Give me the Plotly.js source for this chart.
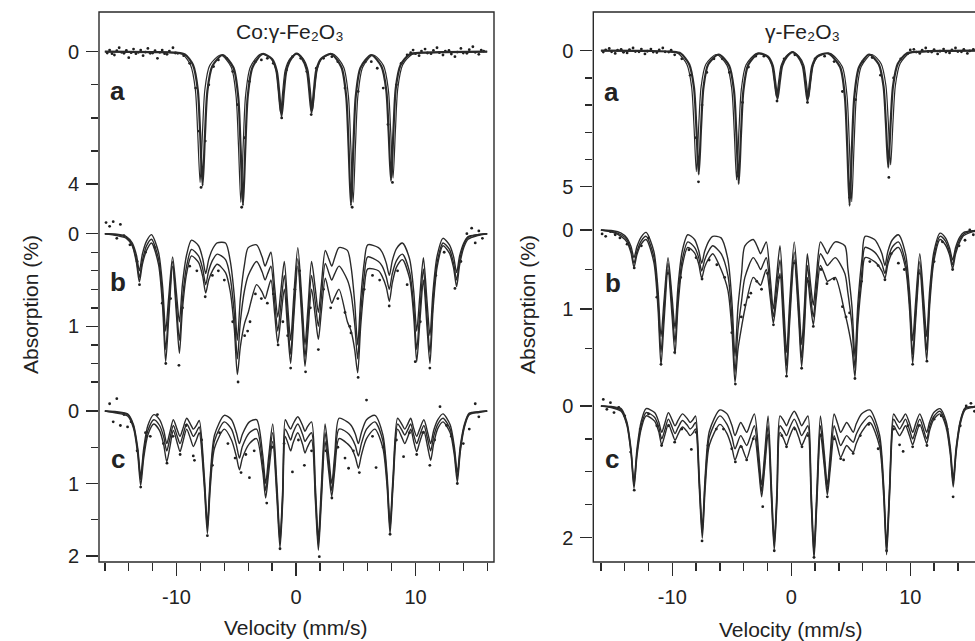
<!DOCTYPE html>
<html><head><meta charset="utf-8">
<script src="https://cdn.plot.ly/plotly-3.0.1.min.js"></script>
<style>html,body{margin:0;padding:0;background:#fff}#chart{width:975px;height:641px}</style>
</head><body><div id="chart"></div>
<script>
// ---------------- DATA (velocity mm/s, absorption %) ----------------
// Left panel: Co:γ-Fe2O3
const LA_inner = [[-16,0],[-12,0.01],[-10,0.03],[-9.3,0.08],
 [-8.62,.4],[-8.22,1.15],[-8.02,2.5],[-7.82,4.05],[-7.62,2.5],[-7.42,1.2],[-7.02,.45],[-6.15,.1],
 [-5.24,.48],[-4.84,1.35],[-4.64,2.87],[-4.44,4.65],[-4.24,2.87],[-4.04,1.35],[-3.64,.47],[-2.8,.07],
 [-2.01,.22],[-1.61,.58],[-1.41,1.21],[-1.21,1.95],[-1.01,1.21],[-0.81,.58],[-0.41,.22],[0.05,.06],
 [0.5,.21],[0.9,.55],[1.1,1.15],[1.3,1.85],[1.5,1.15],[1.7,.55],[2.1,.21],[2.95,.07],
 [3.8,.47],[4.2,1.35],[4.4,2.87],[4.6,4.65],[4.8,2.87],[5.0,1.35],[5.4,.48],[6.3,.1],
 [7.15,.45],[7.55,1.15],[7.75,2.42],[7.95,3.9],[8.15,2.42],[8.35,1.1],[8.75,.4],
 [9.5,.08],[10.5,.03],[12.5,.01],[16,0]];
const LA_outer = [[-16,0],[-12,0.01],[-10.2,.03],[-9.5,.08],
 [-8.83,.4],[-8.43,1.13],[-8.23,2.45],[-8.03,3.95],[-7.83,2.45],[-7.63,1.15],[-7.23,.42],[-6.3,.1],
 [-5.42,.47],[-5.02,1.33],[-4.82,2.8],[-4.62,4.55],[-4.42,2.8],[-4.22,1.32],[-3.82,.46],[-2.95,.07],
 [-2.1,.21],[-1.7,.55],[-1.5,1.15],[-1.3,1.85],[-1.1,1.15],[-0.9,.55],[-0.5,.21],[0.05,.06],
 [0.58,.2],[0.98,.53],[1.18,1.1],[1.38,1.78],[1.58,1.1],[1.78,.53],[2.18,.2],[3.1,.07],
 [3.98,.46],[4.38,1.32],[4.58,2.8],[4.78,4.55],[4.98,2.8],[5.18,1.33],[5.58,.47],[6.45,.1],
 [7.32,.42],[7.72,1.12],[7.92,2.37],[8.12,3.82],[8.32,2.37],[8.52,1.1],[8.92,.4],
 [9.7,.08],[10.7,.03],[12.5,.01],[16,0]];
const LA_dots = [[-15.8,.04],[-15.6,-.05],[-15.4,.06],[-15.2,.1],[-15.0,-.03],[-14.8,-.12],[-14.6,.02],[-14.4,.05],[-14.2,-.04],[-14.0,.18],[-13.8,.03],[-13.6,-.08],[-13.4,.06],[-13.2,.02],[-13.0,-.05],[-12.8,.12],[-12.6,.01],[-12.4,-.1],[-12.2,.05],[-12.0,.04],[-11.8,-.03],[-11.6,.2],[-11.4,.02],[-11.2,-.05],[-11.0,.06],[-10.8,.08],[-10.6,-.02],[-10.3,-.12],[-10.1,.04],[-9.9,.05],[-9.4,.12],[-8.9,.35],[-8.4,1.1],[-8.1,2.4],[-7.95,4.1],[-7.6,2.7],[-7.3,1.0],[-6.9,.45],[-6.5,.25],[-5.8,.2],[-5.3,.6],[-4.9,1.6],[-4.55,4.7],[-4.3,2.6],[-3.9,.9],[-3.4,.3],[-2.9,.25],[-2.4,.2],[-1.9,.35],[-1.2,2.0],[-0.8,.55],[-0.3,.15],[0.4,.2],[0.9,.6],[1.27,1.9],[1.7,.5],[2.3,.2],[3.0,.15],[3.5,.3],[4.1,1.1],[4.7,4.7],[5.2,1.2],[5.8,.3],[6.3,.3],[6.8,.5],[7.3,1.1],[7.7,2.2],[8.07,3.95],[8.4,1.0],[8.8,.35],[9.3,.1],[9.6,.03],[9.8,-.05],[10.0,.06],[10.3,.12],[10.5,-.02],[10.8,-.08],[11.0,.04],[11.3,.06],[11.5,-.04],[11.8,-.12],[12.0,.03],[12.3,.1],[12.5,-.02],[12.8,-.04],[13.0,.07],[13.3,.15],[13.5,.01],[13.8,-.1],[14.0,.04],[14.3,.05],[14.5,-.06],[14.8,-.15],[15.0,.02],[15.3,.08],[15.5,-.05],[15.7,-.02]];

const LB_vel = [-16,-15,-14.2,-13.71,-13.36,-13.11,-12.86,-12.51,-12.1,-11.51,-11.16,-10.91,-10.66,-10.33,-10.01,-9.76,-9.51,-9.16,-8.75,-8.16,-7.81,-7.56,-7.31,-6.96,-6.6,-5.9,-5.51,-5.16,-4.91,-4.66,-4.31,-4.0,-3.3,-2.84,-2.59,-2.37,-2.1,-1.78,-1.53,-1.28,-0.98,-0.70,-0.45,-0.20,0.15,0.50,0.75,1.00,1.3,1.62,1.87,2.12,2.45,2.74,2.99,3.24,3.6,4.3,4.61,4.91,5.16,5.41,5.71,6.0,6.9,7.21,7.56,7.81,8.06,8.41,8.9,9.50,9.85,10.10,10.35,10.66,10.96,11.21,11.46,11.81,12.3,12.84,13.19,13.44,13.69,14.04,14.4,15.2,16];
const LB_top = [0,.005,.03,.10,.23,.40,.22,.08,.01,.20,.58,1.05,.69,.25,.64,.95,.55,.23,.07,.13,.27,.43,.28,.16,.1,.1,.29,.68,1.15,.70,.33,.15,.12,.25,.35,.28,.2,.59,.9,.63,.3,.77,1.15,.70,.15,.73,1.2,.80,.3,.60,.85,.55,.18,.27,.35,.26,.15,.18,.36,.74,1.2,.71,.31,.12,.15,.2,.32,.45,.29,.16,.1,.27,.62,1.05,.69,.26,.72,1.1,.63,.24,.05,.12,.25,.42,.24,.10,.03,.01,0];
const LB_mid = [0,.01,.04,.12,.28,.47,.29,.13,.06,.27,.71,1.25,.82,.30,.77,1.15,.71,.35,.17,.24,.38,.55,.40,.28,.22,.28,.47,.87,1.35,.95,.61,.45,.3,.41,.5,.43,.35,.74,1.05,.78,.45,.92,1.3,.84,.27,.85,1.33,.93,.45,.75,1.0,.69,.32,.42,.5,.43,.35,.5,.65,.97,1.35,.86,.45,.25,.3,.35,.47,.6,.43,.29,.22,.41,.79,1.25,.86,.38,.88,1.28,.75,.31,.1,.17,.32,.5,.29,.12,.04,.01,0];
const LB_bot = [0,.02,.05,.13,.31,.52,.33,.18,.10,.33,.80,1.38,.92,.35,.87,1.29,.82,.43,.24,.31,.46,.64,.50,.39,.33,.42,.62,1.03,1.52,1.22,.97,.85,.55,.63,.7,.61,.5,.87,1.18,.92,.6,1.04,1.40,.93,.35,.94,1.43,1.06,.6,.90,1.14,.84,.48,.63,.75,.68,.6,.95,1.05,1.25,1.5,1.0,.58,.38,.4,.46,.58,.73,.53,.36,.28,.48,.89,1.38,.98,.5,1.0,1.40,.83,.36,.13,.21,.37,.57,.34,.15,.06,.02,0];
const LB_dots = [[-15.9,-.12],[-15.6,-.08],[-15.3,-.13],[-15.0,.05],[-14.7,-.1],[-14.4,.02],[-13.9,.12],[-13.3,.3],[-13.1,.55],[-12.6,.2],[-11.8,.15],[-11.2,.75],[-10.9,1.4],[-10.5,.7],[-9.8,1.42],[-9.5,.8],[-8.9,.35],[-8.3,.4],[-7.6,.68],[-7.0,.45],[-6.5,.4],[-6.0,.5],[-5.3,.95],[-4.85,1.6],[-4.3,1.1],[-4.05,1.05],[-3.85,.95],[-3.4,.65],[-2.9,.7],[-2.4,.75],[-1.9,.65],[-1.5,1.2],[-1.1,.95],[-0.7,1.1],[-0.45,1.45],[-0.1,.6],[0.3,.4],[0.8,1.49],[1.2,.8],[1.87,1.25],[2.3,.6],[2.9,.8],[3.5,.7],[4.1,.85],[4.5,1.0],[4.6,1.07],[5.2,1.55],[5.7,.6],[6.4,.45],[7.0,.5],[7.8,.78],[8.5,.4],[9.3,.55],[9.98,1.38],[10.4,.95],[11.2,1.45],[11.7,.45],[12.4,.2],[13.3,.59],[13.8,.3],[14.3,0],[14.7,-.06],[15.0,.1],[15.3,-.03],[15.6,.05]];

const LC_vel = [-16,-15,-14.1,-13.6,-13.25,-13.0,-12.75,-12.4,-11.9,-11.42,-11.07,-10.82,-10.57,-10.27,-9.96,-9.71,-9.46,-9.15,-8.84,-8.59,-8.34,-8.1,-7.67,-7.42,-7.17,-6.82,-6.0,-5.4,-4.99,-4.74,-4.49,-3.9,-3.3,-2.79,-2.54,-2.29,-1.95,-1.59,-1.34,-1.12,-0.9,-0.65,-0.45,-0.25,0.15,0.55,0.75,0.95,1.3,1.62,1.87,2.12,2.43,2.74,2.99,3.24,3.6,4.3,4.62,4.97,5.22,5.47,5.9,6.6,7.27,7.62,7.87,8.12,8.5,8.85,9.1,9.35,9.6,9.85,10.1,10.35,10.7,11.02,11.27,11.52,11.87,12.3,12.9,13.25,13.5,13.75,14.1,14.5,15.3,16];
const LC_top = [0,.01,.04,.19,.51,.9,.52,.2,.05,.12,.27,.45,.3,.12,.25,.35,.24,.1,.18,.25,.2,.13,.91,1.55,.88,.33,.06,.12,.3,.45,.32,.15,.12,.6,1.0,.63,.18,1.04,1.75,1.1,.12,.2,.25,.18,.08,.2,.28,.22,.15,1.03,1.75,1.04,.18,.63,1.0,.6,.1,.15,.2,.32,.45,.3,.12,.06,.33,.88,1.55,.9,.1,.18,.25,.18,.1,.24,.35,.25,.12,.3,.45,.27,.12,.04,.19,.49,.85,.48,.18,.03,.01,0];
const LC_mid = [0,.02,.05,.21,.55,.95,.58,.27,.12,.2,.36,.55,.39,.2,.34,.45,.33,.18,.27,.35,.29,.22,.99,1.62,.96,.41,.15,.25,.47,.65,.49,.3,.25,.72,1.1,.74,.3,1.14,1.82,1.19,.25,.33,.4,.3,.18,.32,.42,.37,.3,1.15,1.85,1.15,.3,.74,1.1,.72,.25,.3,.36,.48,.62,.45,.25,.15,.41,.96,1.62,.97,.18,.26,.33,.26,.18,.33,.45,.34,.2,.39,.55,.35,.18,.1,.25,.55,.92,.52,.2,.04,.01,0];
const LC_bot = [0,.03,.07,.24,.60,1.03,.65,.33,.18,.27,.47,.70,.51,.27,.43,.56,.42,.25,.38,.49,.4,.3,1.06,1.69,1.04,.51,.25,.4,.63,.81,.65,.45,.38,.83,1.2,.85,.42,1.23,1.89,1.27,.35,.46,.55,.44,.3,.46,.58,.5,.4,1.24,1.92,1.25,.42,.84,1.18,.82,.38,.45,.51,.64,.79,.61,.38,.25,.51,1.04,1.69,1.04,.25,.36,.45,.36,.25,.42,.56,.43,.28,.5,.68,.45,.24,.15,.3,.61,.98,.56,.22,.05,.02,0];
const LC_dots = [[-15.6,-.1],[-15.3,.15],[-15.0,-.17],[-14.7,.2],[-14.4,.05],[-14.1,.22],[-13.8,.15],[-13.3,.55],[-13.0,1.05],[-12.6,.3],[-12.2,.35],[-11.6,.05],[-11.1,.45],[-10.8,.72],[-10.3,.35],[-9.7,.6],[-9.2,.2],[-8.6,.62],[-8.5,.68],[-7.9,.4],[-7.42,1.72],[-7.0,.75],[-6.4,.3],[-5.7,.45],[-5.1,.65],[-4.6,.85],[-4.2,.6],[-3.9,.92],[-3.5,.55],[-2.45,1.27],[-2.0,.5],[-1.34,1.9],[-1.0,.45],[-0.3,.84],[0.2,.4],[0.7,.75],[1.3,.55],[1.95,2.01],[2.5,.55],[3.0,1.2],[3.5,.5],[4.1,.65],[4.4,.79],[4.8,.55],[5.3,.85],[5.9,-.15],[6.4,.35],[6.7,.78],[7.3,.5],[7.87,1.7],[8.4,.4],[9.0,.63],[9.5,.3],[10.1,.6],[10.6,.3],[11.2,.75],[11.6,.4],[12.05,-.06],[12.6,.2],[13.0,.35],[13.5,1.0],[14.0,.45],[14.5,.25],[15.0,-.1],[15.3,.08]];

// Right panel: γ-Fe2O3
const RA_inner = [[-16,0],[-12,.01],[-10,.04],[-9.3,.1],
 [-8.58,.5],[-8.18,1.35],[-7.98,2.8],[-7.78,4.55],[-7.58,2.8],[-7.38,1.35],[-6.98,.5],[-6.1,.14],
 [-5.22,.55],[-4.82,1.45],[-4.62,3.0],[-4.42,4.9],[-4.22,3.0],[-4.02,1.45],[-3.62,.52],[-2.75,.1],
 [-1.96,.22],[-1.56,.55],[-1.36,1.12],[-1.16,1.78],[-0.96,1.12],[-0.76,.55],[-0.36,.22],[0.1,.05],
 [0.56,.22],[0.96,.56],[1.16,1.16],[1.36,1.85],[1.56,1.16],[1.76,.56],[2.16,.22],[3.1,.1],
 [4.1,.6],[4.5,1.68],[4.7,3.5],[4.9,5.7],[5.1,3.5],[5.3,1.68],[5.7,.6],[6.55,.14],
 [7.35,.5],[7.75,1.3],[7.95,2.66],[8.15,4.3],[8.35,2.66],[8.55,1.3],[8.95,.48],
 [9.7,.1],[10.6,.04],[12.5,.01],[16,0]];
const RA_outer = [[-16,0],[-12,.01],[-10.2,.04],[-9.5,.1],
 [-8.78,.5],[-8.38,1.32],[-8.18,2.75],[-7.98,4.45],[-7.78,2.75],[-7.58,1.33],[-7.18,.5],[-6.3,.14],
 [-5.4,.54],[-5.0,1.42],[-4.8,2.92],[-4.6,4.75],[-4.4,2.92],[-4.2,1.42],[-3.8,.52],[-2.9,.1],
 [-2.05,.21],[-1.65,.53],[-1.45,1.08],[-1.25,1.7],[-1.05,1.08],[-0.85,.53],[-0.45,.21],[0.1,.05],
 [0.65,.21],[1.05,.53],[1.25,1.1],[1.45,1.75],[1.65,1.1],[1.85,.53],[2.25,.21],[3.25,.1],
 [4.28,.58],[4.68,1.64],[4.88,3.42],[5.08,5.55],[5.28,3.42],[5.48,1.64],[5.88,.58],[6.75,.14],
 [7.55,.48],[7.95,1.27],[8.15,2.6],[8.35,4.2],[8.55,2.6],[8.75,1.27],[9.15,.47],
 [9.9,.1],[10.8,.04],[12.5,.01],[16,0]];
const RA_dots = [[-15.8,.05],[-15.6,-.03],[-15.3,-.08],[-15.1,.04],[-14.8,.1],[-14.6,-.02],[-14.3,-.05],[-14.1,.06],[-13.8,.08],[-13.6,-.04],[-13.3,-.1],[-13.1,.03],[-12.8,.04],[-12.6,-.06],[-12.3,.12],[-12.1,.02],[-11.8,-.06],[-11.6,.05],[-11.3,.07],[-11.1,-.03],[-10.8,-.1],[-10.6,.04],[-10.3,.05],[-10.1,-.02],[-9.8,.15],[-9.2,.3],[-8.5,.9],[-8.0,3.2],[-7.8,4.82],[-7.5,2.0],[-7.1,.8],[-6.5,.3],[-5.8,.3],[-5.2,.8],[-4.5,4.6],[-4.1,1.9],[-3.6,.6],[-3.0,.2],[-2.3,.2],[-1.2,1.85],[-0.6,.3],[0.3,.15],[1.36,1.9],[2.0,.3],[2.8,.2],[3.6,.4],[4.3,1.5],[4.9,5.4],[5.4,1.8],[6.0,.4],[6.8,.25],[7.5,.9],[8.2,4.66],[8.6,1.0],[9.2,.3],[9.8,.1],[10.0,-.03],[10.3,-.05],[10.5,.05],[10.8,.1],[11.0,-.02],[11.3,-.1],[11.5,.03],[11.8,.05],[12.0,-.04],[12.3,.12],[12.5,.02],[12.8,-.06],[13.0,.05],[13.3,.08],[13.5,-.03],[13.8,-.1],[14.0,.03],[14.3,.04],[14.5,-.05],[14.8,.1],[15.0,.01],[15.3,-.05]];

const RB_vel = [-16,-15,-14.3,-13.82,-13.47,-13.22,-12.97,-12.62,-12.2,-11.55,-11.2,-10.95,-10.7,-10.36,-10.02,-9.77,-9.52,-9.17,-8.7,-8.13,-7.78,-7.53,-7.28,-6.93,-6.6,-5.9,-5.33,-4.98,-4.73,-4.48,-4.18,-3.9,-3.2,-2.83,-2.58,-2.36,-2.1,-1.76,-1.51,-1.26,-0.95,-0.64,-0.39,-0.14,0.25,0.62,0.87,1.1,1.35,1.62,1.85,2.1,2.45,2.78,3.03,3.28,3.7,4.5,4.75,5.1,5.35,5.6,5.95,6.2,7.0,7.27,7.62,7.87,8.12,8.47,9.0,9.6,9.95,10.2,10.45,10.8,11.13,11.38,11.63,11.98,12.5,12.96,13.31,13.56,13.81,14.16,14.5,15.3,16];
const RB_top = [0,.01,.04,.1,.21,.35,.21,.09,.03,.27,.76,1.35,.9,.35,.85,1.25,.71,.27,.06,.12,.26,.42,.27,.14,.08,.1,.37,.93,1.6,.97,.55,.2,.12,.22,.3,.23,.15,.62,1.0,.64,.2,.94,1.55,.92,.15,.87,1.45,.97,.3,.68,.95,.59,.15,.23,.3,.23,.15,.2,.48,.97,1.6,.92,.35,.08,.12,.18,.3,.45,.27,.13,.06,.3,.8,1.4,.91,.3,.88,1.35,.76,.28,.04,.1,.23,.38,.22,.09,.03,.01,0];
const RB_mid = [0,.02,.06,.12,.26,.42,.27,.14,.08,.34,.89,1.55,1.04,.42,.97,1.42,.85,.38,.15,.22,.35,.52,.38,.26,.2,.3,.57,1.13,1.8,1.26,.9,.6,.35,.43,.5,.43,.35,.76,1.1,.78,.38,1.12,1.72,1.07,.28,1.02,1.62,1.13,.45,.83,1.1,.74,.3,.38,.45,.41,.35,.55,.79,1.21,1.75,1.06,.5,.22,.28,.33,.43,.55,.37,.22,.15,.41,.94,1.58,1.05,.4,1.02,1.52,.87,.34,.08,.14,.28,.44,.26,.12,.05,.01,0];
const RB_bot = [0,.03,.08,.15,.29,.47,.31,.18,.12,.41,1.0,1.71,1.17,.5,1.09,1.57,.96,.46,.22,.29,.43,.61,.47,.36,.3,.5,.76,1.29,1.93,1.51,1.23,1.0,.6,.66,.7,.61,.5,.87,1.18,.9,.55,1.26,1.84,1.18,.38,1.12,1.73,1.26,.6,.95,1.2,.86,.45,.56,.65,.63,.6,1.05,1.21,1.5,1.86,1.18,.62,.35,.4,.44,.52,.61,.43,.29,.22,.48,1.03,1.69,1.15,.5,1.13,1.65,.96,.4,.12,.19,.32,.49,.3,.15,.07,.02,0];
const RB_dots = [[-15.9,.05],[-15.6,.08],[-15.2,.02],[-14.8,.06],[-14.4,.1],[-13.8,.18],[-13.2,.48],[-12.6,.2],[-12.0,.1],[-11.3,.85],[-10.95,1.7],[-10.4,.55],[-9.8,1.55],[-9.3,.6],[-8.6,.25],[-8.0,.35],[-7.5,.62],[-6.9,.38],[-6.26,.44],[-5.6,.6],[-5.0,1.3],[-4.7,1.95],[-4.2,1.1],[-3.9,.95],[-3.6,.85],[-3.4,.8],[-2.9,.65],[-2.5,.75],[-2.0,.55],[-1.5,1.2],[-1.0,.6],[-0.4,1.85],[0.2,.42],[0.87,1.75],[1.4,.65],[1.85,1.22],[2.5,.5],[3.0,.68],[3.6,.62],[4.3,.97],[4.6,1.1],[4.9,1.05],[5.35,1.88],[5.9,.65],[6.6,.4],[7.3,.45],[7.87,.63],[8.4,.3],[9.0,.42],[9.5,.5],[10.2,1.7],[10.7,.55],[11.4,1.66],[12.0,.4],[12.7,.15],[13.56,.5],[14.1,.2],[14.6,.13],[15.0,0],[15.3,.06]];

const RC_vel = [-16,-15,-14.3,-13.82,-13.47,-13.22,-12.97,-12.62,-12.2,-11.49,-11.14,-10.89,-10.64,-10.33,-10.02,-9.77,-9.52,-9.15,-8.75,-8.5,-8.27,-8.05,-7.73,-7.48,-7.23,-6.88,-6.0,-5.4,-4.98,-4.73,-4.25,-3.75,-3.45,-3.1,-2.74,-2.49,-2.24,-1.95,-1.66,-1.43,-1.2,-0.95,-0.62,-0.4,-0.15,0.25,0.62,0.87,1.12,1.4,1.68,1.91,2.14,2.45,2.78,3.03,3.28,3.6,3.9,4.15,4.65,4.96,5.21,5.46,5.9,6.6,7.41,7.76,8.01,8.26,8.6,8.85,9.1,9.35,9.6,9.95,10.2,10.45,10.8,11.13,11.38,11.63,11.98,12.5,13.01,13.36,13.61,13.86,14.21,14.6,15.3,16];
const RC_top = [0,.01,.04,.24,.65,1.15,.65,.24,.04,.1,.24,.4,.27,.1,.21,.3,.22,.12,.19,.25,.21,.15,1.09,1.85,1.04,.38,.06,.12,.3,.45,.25,.4,.27,.12,.71,1.2,.73,.15,1.25,2.05,1.25,.15,.23,.3,.2,.08,.2,.3,.23,.15,1.31,2.15,1.31,.15,.73,1.2,.71,.12,.27,.4,.25,.33,.4,.27,.12,.06,.43,1.18,2.1,1.21,.12,.19,.25,.19,.12,.27,.4,.27,.12,.27,.4,.24,.1,.04,.23,.62,1.1,.62,.22,.03,.01,0];
const RC_mid = [0,.02,.06,.27,.69,1.2,.71,.3,.1,.17,.32,.5,.37,.2,.32,.42,.33,.22,.29,.35,.31,.25,1.17,1.93,1.13,.47,.15,.28,.48,.65,.45,.6,.47,.3,.85,1.3,.85,.3,1.36,2.12,1.36,.3,.38,.45,.34,.2,.34,.45,.38,.3,1.43,2.25,1.43,.3,.84,1.28,.84,.3,.47,.6,.45,.51,.55,.43,.28,.15,.52,1.27,2.18,1.29,.2,.28,.35,.28,.2,.37,.5,.37,.2,.37,.5,.31,.16,.08,.28,.68,1.17,.66,.24,.04,.01,0];
const RC_bot = [0,.03,.08,.29,.72,1.25,.76,.35,.15,.23,.39,.59,.45,.28,.41,.52,.43,.32,.39,.45,.41,.35,1.26,2.01,1.23,.59,.28,.42,.64,.82,.6,.8,.64,.45,.96,1.38,.95,.42,1.45,2.19,1.44,.4,.51,.6,.47,.32,.47,.6,.51,.4,1.51,2.32,1.52,.42,.93,1.35,.95,.45,.63,.78,.6,.66,.7,.57,.4,.25,.61,1.36,2.26,1.38,.3,.38,.45,.38,.3,.46,.59,.45,.28,.44,.57,.37,.2,.12,.32,.73,1.23,.7,.27,.06,.02,0];
const RC_dots = [[-15.8,-.1],[-15.5,.05],[-15.2,-.05],[-14.9,.1],[-14.5,.02],[-14.0,.15],[-13.5,.7],[-13.2,1.28],[-12.7,.35],[-12.0,.12],[-11.3,.3],[-10.9,.6],[-10.3,.3],[-9.8,.55],[-9.2,.35],[-8.4,.66],[-8.0,.4],[-7.5,2.05],[-7.0,.6],[-6.3,.35],[-5.7,.35],[-5.0,.65],[-4.7,.85],[-4.2,.62],[-3.75,.82],[-3.2,.5],[-2.4,1.53],[-1.9,.45],[-1.43,2.2],[-0.8,.45],[-0.4,.62],[0.3,.35],[0.9,.62],[1.4,.45],[1.91,2.3],[2.5,.45],[3.03,1.38],[3.6,.5],[4.15,.8],[4.4,.82],[5.2,.72],[5.8,.45],[6.5,.28],[7.3,.65],[8.01,2.2],[8.6,.35],[9.1,.59],[9.4,.69],[9.8,.3],[10.2,.62],[10.7,.3],[11.4,.6],[12.0,.2],[12.6,.15],[13.1,.35],[13.6,1.38],[14.2,.3],[14.7,0],[15.1,-.04],[15.4,.08]];

// tick labels and titles
const X_TICKS = [-10, 0, 10];
const X_TICKTEXT = ['-10', '0', '10'];
const TITLE_LEFT = 'Co:γ-Fe\u2082O\u2083';
const TITLE_RIGHT = 'γ-Fe\u2082O\u2083';

// ---------------- DRAWING ----------------
const FONT = 'Liberation Sans, Arial, Helvetica, sans-serif';
const INK = '#2a2a2a';
const TXT = '#222222';
const W = 975, H = 641;
const PX = x => x / W, PY = y => 1 - y / H;

const traces = [];
function addLine(x, y, xa, ya, w) {
  traces.push({type: 'scatter', mode: 'lines', x: x, y: y, xaxis: xa, yaxis: ya,
    line: {color: INK, width: w || 1.4, shape: 'spline', smoothing: 0.75}, hoverinfo: 'skip', showlegend: false});
}
function addPairsLine(p, xa, ya, w) { addLine(p.map(d => d[0]), p.map(d => d[1]), xa, ya, w); }
function addDots(p, xa, ya) {
  traces.push({type: 'scatter', mode: 'markers', x: p.map(d => d[0]), y: p.map(d => d[1]),
    xaxis: xa, yaxis: ya, marker: {color: '#1e1e1e', size: 2.8}, hoverinfo: 'skip', showlegend: false});
}

addDots(LA_dots, 'x', 'y');
addPairsLine(LA_outer, 'x', 'y', 1.2);
addPairsLine(LA_inner, 'x', 'y', 2.2);
addDots(LB_dots, 'x', 'y2');
addLine(LB_vel, LB_top, 'x', 'y2');
addLine(LB_vel, LB_mid, 'x', 'y2');
addLine(LB_vel, LB_bot, 'x', 'y2');
addDots(LC_dots, 'x', 'y3');
addLine(LC_vel, LC_top, 'x', 'y3');
addLine(LC_vel, LC_mid, 'x', 'y3');
addLine(LC_vel, LC_bot, 'x', 'y3');

addDots(RA_dots, 'x2', 'y4');
addPairsLine(RA_outer, 'x2', 'y4', 1.2);
addPairsLine(RA_inner, 'x2', 'y4', 2.2);
addDots(RB_dots, 'x2', 'y5');
addLine(RB_vel, RB_top, 'x2', 'y5');
addLine(RB_vel, RB_mid, 'x2', 'y5');
addLine(RB_vel, RB_bot, 'x2', 'y5');
addDots(RC_dots, 'x2', 'y6');
addLine(RC_vel, RC_top, 'x2', 'y6');
addLine(RC_vel, RC_mid, 'x2', 'y6');
addLine(RC_vel, RC_bot, 'x2', 'y6');

const tickFont = {family: FONT, size: 20, color: TXT};
function xAxis(domain, range, anchor) {
  return {domain: domain, range: range, anchor: anchor, showgrid: false, zeroline: false, showline: false,
    tickmode: 'array', tickvals: X_TICKS, ticktext: X_TICKTEXT, ticks: 'outside', ticklen: 13,
    tickwidth: 1.3, tickcolor: INK, tickfont: tickFont, ticklabelstandoff: 4,
    minor: {tickmode: 'linear', tick0: 0, dtick: 2, ticks: 'outside', ticklen: 8, tickwidth: 1.3, tickcolor: INK, showgrid: false}};
}
function yAxis(domain, range, anchor, major, minor) {
  return {domain: domain, range: range, anchor: anchor, showgrid: false, zeroline: false, showline: false,
    tickmode: 'array', tickvals: major, ticktext: major.map(String), ticks: 'outside', ticklen: 12,
    tickwidth: 1.3, tickcolor: INK, tickfont: tickFont, ticklabelstandoff: 3,
    minor: {tickmode: 'array', tickvals: minor, ticks: 'outside', ticklen: 7, tickwidth: 1.3, tickcolor: INK, showgrid: false}};
}
const dA = [PY(215), PY(12)], dB = [PY(392), PY(215)], dC = [PY(562), PY(392)];

const layout = {
  width: W, height: H, margin: {l: 0, r: 0, t: 0, b: 0}, paper_bgcolor: '#fff', plot_bgcolor: 'rgba(0,0,0,0)',
  showlegend: false, font: {family: FONT, color: TXT},
  xaxis: xAxis([PX(99), PX(494)], [-16.49, 16.57], 'y3'),
  xaxis2: xAxis([PX(593.3), 1], [-16.64, 15.44], 'y6'),
  yaxis: yAxis(dA, [(215 - 51.7) / 33.1, (12 - 51.7) / 33.1], 'x', [0, 4], [1, 2, 3]),
  yaxis2: yAxis(dB, [(392 - 233.7) / 92.7, (215 - 233.7) / 92.7], 'x', [0, 1], [0.2, 0.4, 0.6, 0.8, 1.2, 1.4, 1.6]),
  yaxis3: yAxis(dC, [(562 - 411) / 72.5, (392 - 411) / 72.5], 'x', [0, 1, 2], [0.5, 1.5]),
  yaxis4: yAxis(dA, [(215 - 50.7) / 27.2, (12 - 50.7) / 27.2], 'x2', [0, 5], [1, 2, 3, 4]),
  yaxis5: yAxis(dB, [(392 - 230) / 79, (215 - 230) / 79], 'x2', [0, 1], [0.5, 1.5]),
  yaxis6: yAxis(dC, [(562 - 406) / 65.8, (392 - 406) / 65.8], 'x2', [0, 2], [0.5, 1, 1.5]),
  shapes: [
    {type: 'rect', xref: 'paper', yref: 'paper', x0: PX(99), x1: PX(494), y0: PY(562), y1: PY(12), line: {color: INK, width: 1.4}},
    {type: 'rect', xref: 'paper', yref: 'paper', x0: PX(593.3), x1: 1.05, y0: PY(562), y1: PY(12), line: {color: INK, width: 1.4}}
  ],
  annotations: []
};
function ann(text, x, y, size, extra, weight) {
  layout.annotations.push(Object.assign({text: text, x: PX(x), y: PY(y), xref: 'paper', yref: 'paper',
    xanchor: 'center', yanchor: 'middle', showarrow: false,
    font: {family: FONT, size: size, color: TXT, weight: weight || 'normal'}}, extra || {}));
}
ann(TITLE_LEFT, 290, 31, 21);
ann(TITLE_RIGHT, 802, 31, 21);
ann('Absorption (%)', 30, 305, 21, {textangle: -90});
ann('Absorption (%)', 527, 305, 21, {textangle: -90});
ann('Velocity (mm/s)', 296, 627, 21);
ann('Velocity (mm/s)', 791, 629, 21);
ann('a', 117, 91, 26, null, 'bold'); ann('b', 118, 282, 26, null, 'bold'); ann('c', 118, 459, 26, null, 'bold');
ann('a', 611, 92, 26, null, 'bold'); ann('b', 613, 283, 26, null, 'bold'); ann('c', 612, 459, 26, null, 'bold');

Plotly.newPlot('chart', traces, layout, {staticPlot: true, displayModeBar: false});
</script></body></html>
